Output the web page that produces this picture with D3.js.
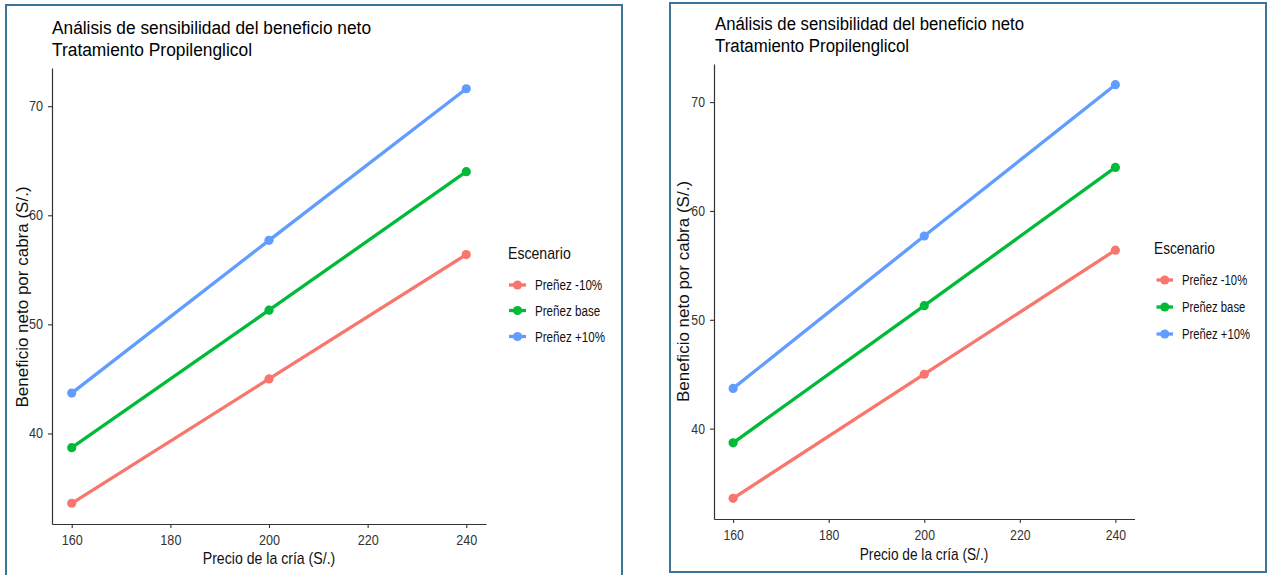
<!DOCTYPE html>
<html>
<head>
<meta charset="utf-8">
<script src="https://cdn.jsdelivr.net/npm/d3@7"></script>
<style>
  html, body { margin: 0; padding: 0; background: #ffffff; }
  svg { display: block; font-family: "Liberation Sans", Arial, sans-serif; }
</style>
</head>
<body>
<svg id="chart" width="1271" height="575"></svg>
<script>
// ---- Data ----
const precios = [160, 200, 240];
const escenarios = ["Preñez -10%", "Preñez base", "Preñez +10%"];
const beneficioMenos10 = [33.6, 45.0, 56.4];
const beneficioBase = [38.7, 51.3, 64.0];
const beneficioMas10 = [43.7, 57.7, 71.6];
const xTicks = [160, 180, 200, 220, 240];
const yTicks = [40, 50, 60, 70];
const colores = ["#F8766D", "#00BA38", "#619CFF"];
const titulo1 = "Análisis de sensibilidad del beneficio neto";
const titulo2 = "Tratamiento Propilenglicol";
const tituloX = "Precio de la cría (S/.)";
const tituloY = "Beneficio neto por cabra (S/.)";
const tituloLeyenda = "Escenario";

const series = [beneficioMenos10, beneficioBase, beneficioMas10].map((vals, i) => ({
  name: escenarios[i],
  color: colores[i],
  points: precios.map((p, j) => ({ x: p, y: vals[j] }))
}));

// ggplot-like 5% expansion of data range
const allY = [].concat(beneficioMenos10, beneficioBase, beneficioMas10);
const yMin = d3.min(allY), yMax = d3.max(allY);
const yPad = (yMax - yMin) * 0.05;
const xMin = d3.min(precios), xMax = d3.max(precios);
const xPad = (xMax - xMin) * 0.05;

const svg = d3.select("#chart");

function squish(sel, k) {
  sel.each(function () {
    const w = this.getComputedTextLength();
    d3.select(this).attr("textLength", w * k).attr("lengthAdjust", "spacingAndGlyphs");
  });
}

const panels = [
  { border: [6, 5, 616, 600], px0: 52, px1: 486, py0: 68, py1: 524,
    titleX: 52, titleY1: 34, titleY2: 56, titleW1: 319, titleW2: 200,
    yTitleX: 28, yTitleY: 297, xTitleX: 269, xTitleY: 564, k: 0.83,
    legTitleX: 508, legTitleY: 259, legKeyX0: 509, legKeyX1: 526, legLabelX: 535,
    legYs: [285, 310.5, 336.5] },
  { border: [670, 3, 596, 569], px0: 714, px1: 1134.5, py0: 64, py1: 519,
    titleX: 715, titleY1: 30, titleY2: 52, titleW1: 309, titleW2: 194,
    yTitleX: 689, yTitleY: 291.5, xTitleX: 924, xTitleY: 560, k: 0.805,
    legTitleX: 1154, legTitleY: 254, legKeyX0: 1156.5, legKeyX1: 1173, legLabelX: 1182,
    legYs: [280, 307, 334] }
];

panels.forEach(cfg => {
  // border frame
  svg.append("rect")
    .attr("x", cfg.border[0]).attr("y", cfg.border[1])
    .attr("width", cfg.border[2]).attr("height", cfg.border[3])
    .attr("fill", "none").attr("stroke", "#3D7599").attr("stroke-width", 2);

  const x = d3.scaleLinear().domain([xMin - xPad, xMax + xPad]).range([cfg.px0, cfg.px1]);
  const y = d3.scaleLinear().domain([yMin - yPad, yMax + yPad]).range([cfg.py1, cfg.py0]);

  const g = svg.append("g");

  // axes
  const xAxis = g.append("g").attr("transform", `translate(0,${cfg.py1})`)
    .call(d3.axisBottom(x).tickValues(xTicks).tickSize(4).tickSizeOuter(0).tickPadding(7).tickFormat(d3.format("d")));
  const yAxis = g.append("g").attr("transform", `translate(${cfg.px0},0)`)
    .call(d3.axisLeft(y).tickValues(yTicks).tickSize(4).tickSizeOuter(0).tickPadding(5).tickFormat(d3.format("d")));
  [xAxis, yAxis].forEach(a => {
    a.select(".domain").attr("stroke", "#333333").attr("stroke-width", 1.2);
    a.selectAll(".tick line").attr("stroke", "#333333").attr("stroke-width", 1.1);
    a.selectAll(".tick text").attr("fill", "#333333").attr("font-size", 14)
      .attr("font-family", "Liberation Sans, Arial, sans-serif");
    squish(a.selectAll(".tick text"), cfg.k + 0.07);
  });

  // lines
  const line = d3.line().x(d => x(d.x)).y(d => y(d.y));
  series.forEach(s => {
    g.append("path").datum(s.points)
      .attr("d", line).attr("fill", "none")
      .attr("stroke", s.color).attr("stroke-width", 3.3);
  });
  series.forEach(s => {
    g.selectAll(null).data(s.points).enter().append("circle")
      .attr("cx", d => x(d.x)).attr("cy", d => y(d.y)).attr("r", 4.6)
      .attr("fill", s.color);
  });

  // titles
  g.append("text").attr("x", cfg.titleX).attr("y", cfg.titleY1)
    .attr("font-size", 18).attr("fill", "#000")
    .attr("textLength", cfg.titleW1).attr("lengthAdjust", "spacingAndGlyphs").text(titulo1);
  g.append("text").attr("x", cfg.titleX).attr("y", cfg.titleY2)
    .attr("font-size", 18).attr("fill", "#000")
    .attr("textLength", cfg.titleW2).attr("lengthAdjust", "spacingAndGlyphs").text(titulo2);

  // axis titles
  const xt = g.append("text").attr("x", cfg.xTitleX).attr("y", cfg.xTitleY)
    .attr("text-anchor", "middle").attr("font-size", 17).attr("fill", "#111").text(tituloX);
  squish(xt, cfg.k);
  g.append("text")
    .attr("transform", `translate(${cfg.yTitleX},${cfg.yTitleY}) rotate(-90)`)
    .attr("text-anchor", "middle").attr("font-size", 17).attr("fill", "#111").text(tituloY);

  // legend
  const lt = g.append("text").attr("x", cfg.legTitleX).attr("y", cfg.legTitleY)
    .attr("font-size", 17).attr("fill", "#111").text(tituloLeyenda);
  squish(lt, cfg.k);
  series.forEach((s, i) => {
    const ly = cfg.legYs[i];
    g.append("line").attr("x1", cfg.legKeyX0).attr("x2", cfg.legKeyX1)
      .attr("y1", ly).attr("y2", ly).attr("stroke", s.color).attr("stroke-width", 3.3);
    g.append("circle").attr("cx", (cfg.legKeyX0 + cfg.legKeyX1) / 2).attr("cy", ly)
      .attr("r", 4.6).attr("fill", s.color);
    const t = g.append("text").attr("x", cfg.legLabelX).attr("y", ly + 5)
      .attr("font-size", 14).attr("fill", "#111").text(s.name);
    squish(t, cfg.k);
  });
});
</script>
</body>
</html>
